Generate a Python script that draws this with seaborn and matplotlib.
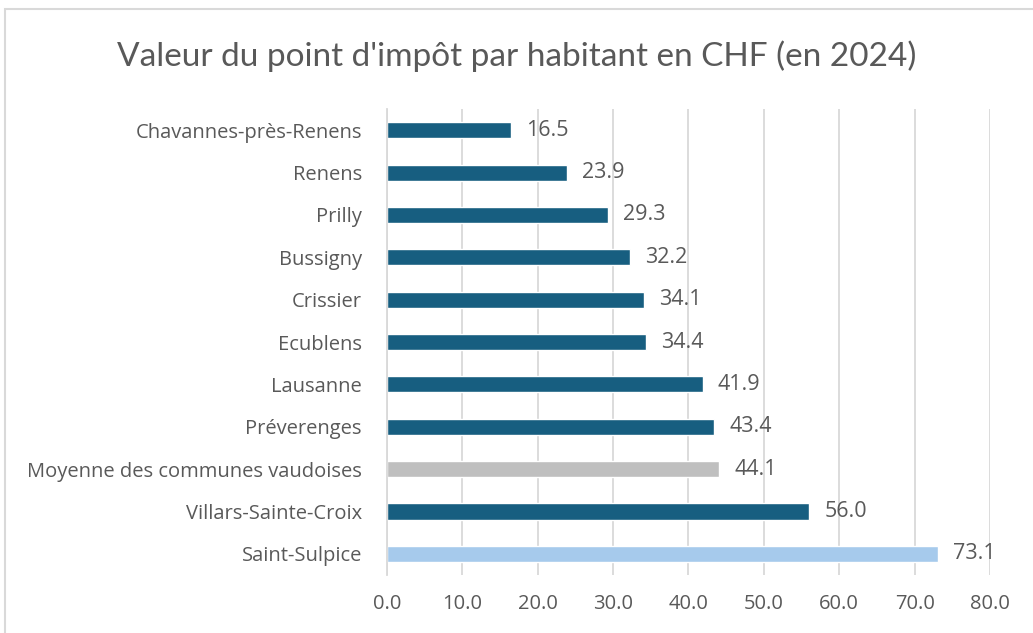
import pandas as pd
import matplotlib.pyplot as plt
import seaborn as sns
from matplotlib.patches import Rectangle

# Données
communes = ['Chavannes-près-Renens', 'Renens', 'Prilly', 'Bussigny', 'Crissier',
            'Ecublens', 'Lausanne', 'Préverenges', 'Moyenne des communes vaudoises',
            'Villars-Sainte-Croix', 'Saint-Sulpice']
valeurs = [16.5, 23.9, 29.3, 32.2, 34.1, 34.4, 41.9, 43.4, 44.1, 56.0, 73.1]
couleurs = ['#175E80'] * 8 + ['#BFBFBF', '#175E80', '#A6CAEC']
ticks = [0, 10, 20, 30, 40, 50, 60, 70, 80]

data = pd.DataFrame({'commune': communes, 'valeur': valeurs})

sns.set_style('white')
plt.rcParams['font.family'] = ['Open Sans', 'DejaVu Sans']
gris = '#595959'

fig = plt.figure(figsize=(10.33, 6.33), dpi=100)
ax = fig.add_axes([0.3746, 0.0916, 0.5838, 0.7362])

sns.barplot(data=data, x='valeur', y='commune', hue='commune', palette=couleurs,
            legend=False, width=0.38, ax=ax, orient='h', saturation=1)

ax.set_xlim(0, 80)
ax.set_xticks(ticks)
ax.set_xticklabels([f'{t:.1f}' for t in ticks])
ax.set_xlabel('')
ax.set_ylabel('')
ax.grid(axis='x', color='#D9D9D9', linewidth=1.3)
ax.set_axisbelow(True)
for s in ['top', 'right', 'bottom']:
    ax.spines[s].set_visible(False)
ax.spines['left'].set_color('#D9D9D9')
ax.spines['left'].set_linewidth(1.3)
ax.tick_params(axis='both', length=0, colors=gris)
ax.tick_params(axis='y', labelsize=14.5, pad=18)
ax.tick_params(axis='x', labelsize=14.5, pad=14)

for i, v in enumerate(valeurs):
    ax.text(v + 2.0, i, f'{v:.1f}', va='center', ha='left', fontsize=15.5, color=gris)

fig.text(0.5, 0.912, "Valeur du point d'impôt par habitant en CHF (en 2024)",
         ha='center', va='center', fontsize=24, color=gris,
         family=['Lato', 'DejaVu Sans'])

fig.patches.append(Rectangle((0.005, -0.01), 1.2, 0.995, transform=fig.transFigure,
                             fill=False, edgecolor='#D9D9D9', linewidth=1.5))

fig.savefig('out.png', dpi=100)
